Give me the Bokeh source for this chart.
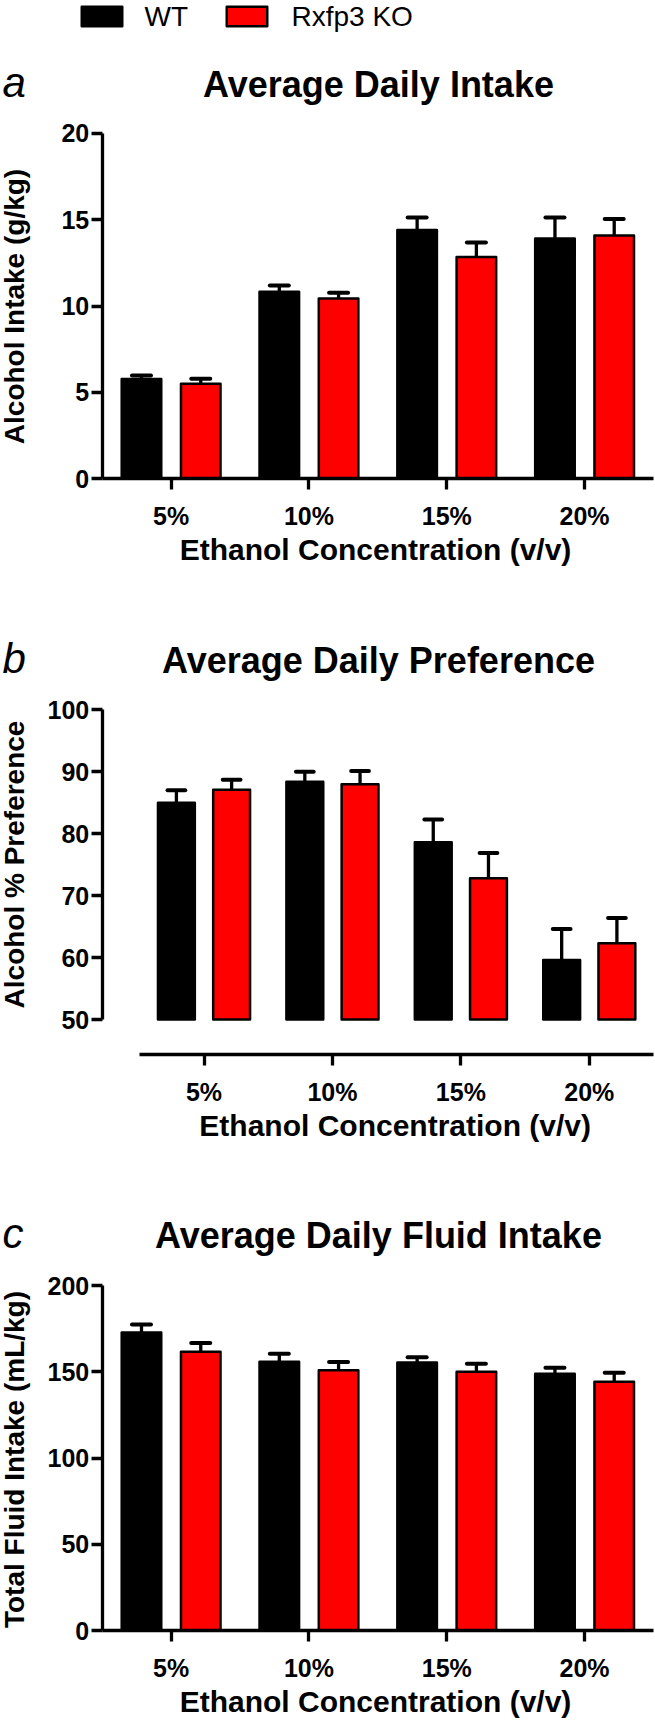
import numpy as np
from bokeh.plotting import figure
from bokeh.layouts import column
from bokeh.models import Range1d, FixedTicker, Label, ColumnDataSource
from bokeh.embed import file_html
from bokeh.resources import INLINE

# ---------------- data ----------------
concentrations = ["5%", "10%", "15%", "20%"]
groups = ["WT", "Rxfp3 KO"]

intake_wt = [5.77, 10.82, 14.40, 13.91]
intake_wt_sem = [0.21, 0.37, 0.72, 1.21]
intake_ko = [5.50, 10.44, 12.83, 14.08]
intake_ko_sem = [0.29, 0.32, 0.84, 0.96]

pref_wt = [85.0, 88.4, 78.6, 59.6]
pref_wt_sem = [2.0, 1.6, 3.7, 5.0]
pref_ko = [87.1, 88.0, 72.8, 62.3]
pref_ko_sem = [1.6, 2.1, 4.1, 4.1]

fluid_wt = [172.8, 155.8, 155.4, 148.8]
fluid_wt_sem = [4.6, 4.6, 3.0, 3.5]
fluid_ko = [161.6, 150.8, 150.0, 144.2]
fluid_ko_sem = [5.0, 4.8, 4.6, 5.2]

intake_ticks = [0, 5, 10, 15, 20]
pref_ticks = [50, 60, 70, 80, 90, 100]
fluid_ticks = [0, 50, 100, 150, 200]

# ---------------- style ----------------
FONT = "Liberation Sans"
W = 654
OFF, BAR_W, CAP = 0.215, 0.287, 0.138
RED = "#FF0000"
NCAT = len(concentrations)
SHIFT = 0.35        # label baseline correction (fraction of font size)
F_LET, F_TIT, F_YLAB, F_XLAB, F_LEG = 42, 36, 28, 30, 28


def add_series(p, vals, sems, offset, fill, base):
    n = len(vals)
    x = [i + 0.5 + offset for i in range(n)]
    src = ColumnDataSource(dict(
        x=x, top=vals, bottom=[base] * n,
        hi=[v + s for v, s in zip(vals, sems)],
        cl=[xx - CAP / 2 for xx in x], cr=[xx + CAP / 2 for xx in x]))
    p.vbar(x="x", top="top", bottom="bottom", width=BAR_W, fill_color=fill,
           line_color="black", line_width=2.5, line_join="round", source=src)
    p.segment(x0="x", y0="top", x1="x", y1="hi", line_color="black",
              line_width=3.3, source=src)
    p.segment(x0="cl", y0="hi", x1="cr", y1="hi", line_color="black",
              line_width=4, line_cap="round", source=src)


def make_panel(H, x0px, x4px, yaxis_px, ylo, ylo_px, yhi, yhi_px, xaxis_px,
               yticks, wt, wt_sem, ko, ko_sem, base,
               letter, title, ylabel, xlabel,
               title_base, ylab_cy, xlab_cx, xlab_base):
    # pixel <-> data mapping (the frame spans the whole figure)
    sx = (x4px - x0px) / NCAT
    sy = (ylo_px - yhi_px) / (yhi - ylo)

    def dx(px):
        return (px - x0px) / sx

    def dy(py):
        return ylo + (ylo_px - py) / sy

    p = figure(width=W, height=H,
               x_range=Range1d(dx(0), dx(W)), y_range=Range1d(dy(H), dy(0)),
               min_border_left=0, min_border_right=0,
               min_border_top=0, min_border_bottom=0,
               output_backend="svg", toolbar_location=None)
    p.grid.visible = False
    p.outline_line_color = None
    p.background_fill_color = "white"
    p.border_fill_color = "white"

    add_series(p, wt, wt_sem, -OFF, "black", base)
    add_series(p, ko, ko_sem, OFF, RED, base)

    for ax in (p.xaxis[0], p.yaxis[0]):
        ax.axis_line_width = 3.3
        ax.axis_line_color = "black"
        ax.major_tick_line_width = 3.3
        ax.major_tick_line_color = "black"
        ax.major_tick_out = 11
        ax.major_tick_in = 0
        ax.minor_tick_line_color = None
        ax.major_label_text_font = FONT
        ax.major_label_text_font_style = "bold"
        ax.major_label_text_font_size = "25px"
        ax.major_label_text_color = "black"

    yax = p.yaxis[0]
    yax.ticker = FixedTicker(ticks=yticks)
    yax.major_label_standoff = 2
    yax.bounds = (yticks[0], yticks[-1])
    yax.fixed_location = dx(yaxis_px)

    xax = p.xaxis[0]
    xax.ticker = FixedTicker(ticks=[i + 0.5 for i in range(NCAT)])
    xax.major_label_overrides = {i + 0.5: c for i, c in enumerate(concentrations)}
    xax.major_label_standoff = 12
    xax.bounds = (0, NCAT)
    xax.fixed_location = dy(xaxis_px)

    common = dict(text_font=FONT, text_color="black", text_baseline="alphabetic")
    p.add_layout(Label(x=dx(2), y=dy(title_base - SHIFT * F_LET), text=letter,
                       text_font_style="italic", text_font_size=f"{F_LET}px",
                       text_align="left", **common))
    p.add_layout(Label(x=dx(378), y=dy(title_base - SHIFT * F_TIT), text=title,
                       text_font_style="bold", text_font_size=f"{F_TIT}px",
                       text_align="center", **common))
    p.add_layout(Label(x=dx(24 - SHIFT * F_YLAB), y=dy(ylab_cy), text=ylabel,
                       text_font_style="bold", text_font_size=f"{F_YLAB}px",
                       angle=np.pi / 2, text_align="center", **common))
    p.add_layout(Label(x=dx(xlab_cx), y=dy(xlab_base - SHIFT * F_XLAB), text=xlabel,
                       text_font_style="bold", text_font_size=f"{F_XLAB}px",
                       text_align="center", **common))
    return p


# ---------------- legend strip ----------------
LH = 40
leg = figure(width=W, height=LH, x_range=Range1d(0, W), y_range=Range1d(LH, 0),
             min_border_left=0, min_border_right=0, min_border_top=0, min_border_bottom=0,
             x_axis_type=None, y_axis_type=None,
             output_backend="svg", toolbar_location=None)
leg.grid.visible = False
leg.outline_line_color = None
leg_src = ColumnDataSource(dict(left=[81.25, 226.25], right=[121.75, 266.75],
                                top=[6.25, 6.25], bottom=[25.75, 25.75],
                                fill=["black", RED]))
leg.quad(left="left", right="right", top="top", bottom="bottom", fill_color="fill",
         line_color="black", line_width=2.5, line_join="round", source=leg_src)
for tx, name in zip([144, 291], groups):
    leg.add_layout(Label(x=tx, y=26 - SHIFT * F_LEG, text=name, text_font=FONT,
                         text_font_size=f"{F_LEG}px", text_align="left",
                         text_baseline="alphabetic", text_color="black"))

XLAB = "Ethanol Concentration (v/v)"

# figure A spans page y 40..585, B 585..1160, C 1160..1718
pa = make_panel(545, 101.7, 653, 101.7, 0, 438.3, 20, 92.7, 438.3, intake_ticks,
                intake_wt, intake_wt_sem, intake_ko, intake_ko_sem, 0,
                "a", "Average Daily Intake", "Alcohol Intake (g/kg)", XLAB,
                56.7, 266, 375, 519.3)

pb = make_panel(575, 139.3, 653, 101.7, 50, 434, 100, 124.3, 469.3, pref_ticks,
                pref_wt, pref_wt_sem, pref_ko, pref_ko_sem, 50,
                "b", "Average Daily Preference", "Alcohol % Preference", XLAB,
                87.7, 279, 394.7, 550.5)

pc = make_panel(558, 101.7, 653, 101.7, 0, 470, 200, 125, 470, fluid_ticks,
                fluid_wt, fluid_wt_sem, fluid_ko, fluid_ko_sem, 0,
                "c", "Average Daily Fluid Intake", "Total Fluid Intake (mL/kg)", XLAB,
                87.7, 299, 375, 551.7)

layout = column(leg, pa, pb, pc, spacing=0)
open("out.html", "w").write(file_html(layout, INLINE))
